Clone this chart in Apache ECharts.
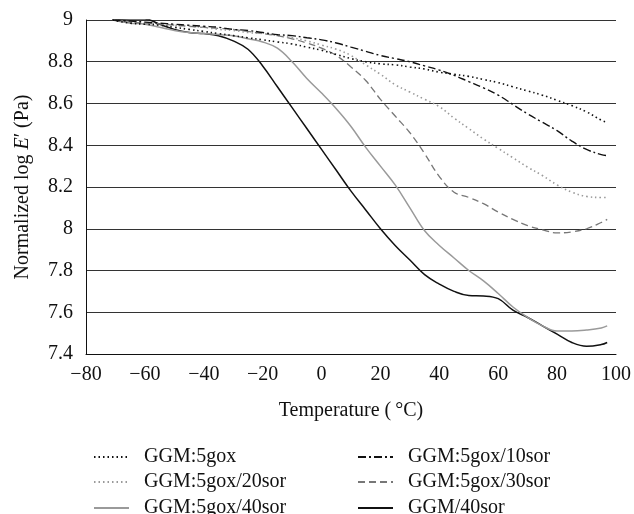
<!DOCTYPE html>
<html>
<head>
<meta charset="utf-8">
<script src="https://cdn.jsdelivr.net/npm/echarts@6/dist/echarts.min.js"></script>
<style>
html,body{margin:0;padding:0;background:#fff;}
#chart{width:634px;height:514px;}
</style>
</head>
<body>
<div id="chart"></div>
<script>
const temps = [-71,-65,-60,-55,-50,-45,-40,-35,-30,-25,-20,-15,-10,-5,0,5,10,15,20,25,30,35,40,45,50,55,60,65,70,75,80,85,90,95,97];

const seriesNames = ['GGM:5gox','GGM:5gox/10sor','GGM:5gox/20sor','GGM:5gox/30sor','GGM:5gox/40sor','GGM/40sor'];

const v5gox = [9.0,8.985,8.98,8.975,8.965,8.955,8.945,8.935,8.925,8.915,8.905,8.895,8.885,8.87,8.855,8.835,8.815,8.80,8.79,8.785,8.775,8.765,8.75,8.74,8.73,8.715,8.70,8.68,8.66,8.64,8.615,8.59,8.56,8.52,8.51];
const v5gox10 = [9.0,8.995,8.99,8.985,8.98,8.975,8.97,8.965,8.955,8.95,8.94,8.93,8.925,8.915,8.905,8.89,8.87,8.85,8.83,8.815,8.80,8.78,8.76,8.735,8.705,8.675,8.64,8.595,8.55,8.51,8.47,8.42,8.38,8.355,8.35];
const v5gox20 = [9.0,8.99,8.985,8.98,8.975,8.97,8.965,8.955,8.95,8.94,8.935,8.925,8.915,8.9,8.88,8.86,8.83,8.785,8.74,8.69,8.655,8.62,8.585,8.53,8.48,8.43,8.385,8.34,8.295,8.255,8.21,8.175,8.155,8.15,8.15];
const v5gox30 = [9.0,8.99,8.985,8.98,8.975,8.97,8.965,8.96,8.955,8.945,8.935,8.925,8.91,8.89,8.865,8.83,8.775,8.71,8.62,8.54,8.46,8.36,8.25,8.175,8.15,8.12,8.08,8.045,8.015,7.995,7.98,7.985,8.0,8.03,8.045];
const v5gox40 = [9.0,8.985,8.98,8.965,8.95,8.94,8.935,8.93,8.925,8.91,8.895,8.865,8.80,8.72,8.65,8.575,8.49,8.39,8.30,8.21,8.10,7.99,7.92,7.86,7.80,7.75,7.69,7.625,7.575,7.535,7.51,7.51,7.515,7.525,7.535];
const vGGM40 = [9.0,9.005,9.005,8.98,8.955,8.94,8.935,8.925,8.90,8.86,8.78,8.68,8.58,8.48,8.38,8.28,8.18,8.09,8.0,7.92,7.85,7.78,7.735,7.70,7.68,7.678,7.665,7.61,7.575,7.535,7.495,7.455,7.437,7.445,7.455];

const xTicks = [-80,-60,-40,-20,0,20,40,60,80,100];
const yTicks = [7.4,7.6,7.8,8,8.2,8.4,8.6,8.8,9];

const valueSets = [v5gox, v5gox10, v5gox20, v5gox30, v5gox40, vGGM40];
const styles = [
  {color:'#111', width:1.6, type:[1.5,3]},
  {color:'#111', width:1.4, type:[8,3,2,3]},
  {color:'#9a9a9a', width:1.6, type:[1.5,3]},
  {color:'#777', width:1.3, type:[7,4]},
  {color:'#9a9a9a', width:1.5, type:'solid'},
  {color:'#111', width:1.5, type:'solid'}
];

const FONT = 'Liberation Serif';
const FS = 20;
const series = seriesNames.map((name,i)=>({
  name: name,
  type: 'line',
  smooth: 0.4,
  symbol: 'none',
  showSymbol: false,
  data: temps.map((t,j)=>[t, valueSets[i][j]]),
  lineStyle: {color: styles[i].color, width: styles[i].width, type: styles[i].type},
  itemStyle: {color: styles[i].color},
  z: 10 - i
}));

// legend placement: [series index, left, top]
const legendSlots = [[0,88,441],[1,352,441],[2,88,466],[3,352,466],[4,88,492],[5,352,492]];
const legends = legendSlots.map(([idx,left,top])=>({
  id: 'lg' + idx,
  show: true,
  orient: 'horizontal',
  left: left,
  top: top,
  itemWidth: 35,
  itemHeight: 14,
  itemGap: 8,
  itemStyle: {opacity: 0},
  textStyle: {fontFamily: FONT, fontSize: FS, color: '#111', lineHeight: 22, padding: [0,0,0,10]},
  data: [seriesNames[idx]]
}));

const chart = echarts.init(document.getElementById('chart'), null, {renderer:'canvas'});
chart.setOption({
  animation: false,
  backgroundColor: '#fff',
  grid: {left: 86, right: 17, top: 20, bottom: 160},
  xAxis: {
    type: 'value',
    min: xTicks[0], max: xTicks[xTicks.length-1], interval: 20,
    name: 'Temperature (\u2009°C)',
    nameLocation: 'middle',
    nameGap: 47,
    nameTextStyle: {fontFamily: FONT, fontSize: FS, color: '#111'},
    axisLine: {show: true, onZero: false, lineStyle: {color: '#111', width: 1}},
    axisTick: {show: false},
    splitLine: {show: false},
    axisLabel: {
      fontFamily: FONT, fontSize: FS, color: '#111', margin: 11,
      formatter: v => v < 0 ? '\u2212' + Math.abs(v) : String(v)
    }
  },
  yAxis: {
    type: 'value',
    min: yTicks[0], max: yTicks[yTicks.length-1], interval: 0.2,
    name: '{n|Normalized log }{i|E}{n|\u2032 (Pa)}',
    nameLocation: 'middle',
    nameGap: 53,
    nameTextStyle: {
      fontFamily: FONT, fontSize: FS, color: '#111',
      rich: {
        n: {fontFamily: FONT, fontSize: FS, color: '#111'},
        i: {fontFamily: FONT, fontSize: FS, color: '#111', fontStyle: 'italic'}
      }
    },
    axisLine: {show: true, onZero: false, lineStyle: {color: '#111', width: 1}},
    axisTick: {show: false},
    splitLine: {show: true, lineStyle: {color: '#333', width: 1}},
    axisLabel: {
      fontFamily: FONT, fontSize: FS, color: '#111', margin: 13,
      formatter: v => String(+v.toFixed(1))
    }
  },
  legend: legends,
  series: series
});
</script>
</body>
</html>
